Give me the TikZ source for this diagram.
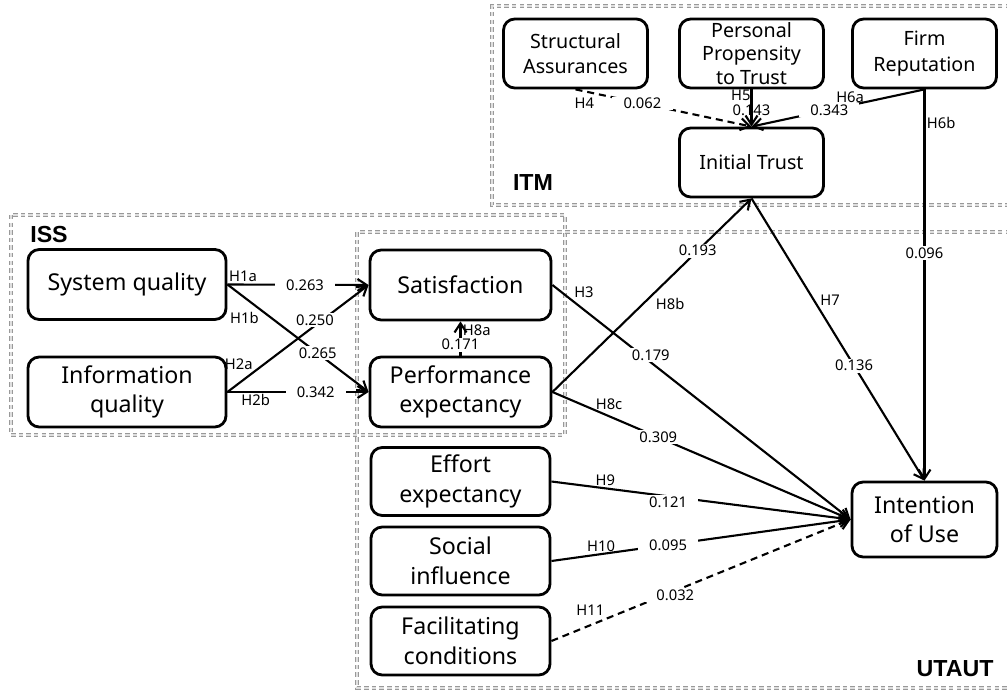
\documentclass[tikz,border=0pt]{standalone}
\usepackage{fontspec}
\setmainfont{Noto Sans}
\newfontfamily\modelfont{Liberation Sans}
\usetikzlibrary{arrows.meta}

\begin{document}
\begin{tikzpicture}[x=0.025cm, y=-0.025cm,
    var/.style={draw, line width=2pt, rounded corners=8pt, align=center, inner sep=1pt},
    smallvar/.style={var, font=\fontsize{14}{18}\selectfont, minimum width=3.6cm, minimum height=1.725cm},
    largevar/.style={var, font=\fontsize{16.5}{21}\selectfont, minimum height=1.75cm},
    link/.style={line width=1.5pt, -{Straight Barb[length=6.5pt, width=8.5pt, line width=1.5pt]}},
    weak/.style={link, dash pattern=on 5pt off 3.5pt},
    coef/.style={font=\fontsize{10.5}{12}\selectfont, fill=white, inner xsep=8pt, inner ysep=1pt},
    hyp/.style={font=\fontsize{10.5}{12}\selectfont, inner sep=1pt},
    groupframe/.style={draw=gray!80, line width=1pt, double=gray!25, double distance=0.8pt, dash pattern=on 3.2pt off 2.2pt},
    modelname/.style={font=\modelfont\bfseries\fontsize{16.5}{19}\selectfont}]
  \useasboundingbox (0,0) rectangle (1007,694);

  % model frames
  \draw[groupframe] (1010,6) -- (492,6) -- (492,205) -- (1010,205);
  \draw[groupframe] (11,215) rectangle (565,435);
  \draw[groupframe] (1010,232) -- (357,232) -- (357,688) -- (1010,688);
  \node[modelname] (itm) at (533,183) {ITM};
  \node[modelname] (iss) at (49,235) {ISS};
  \node[modelname] (utaut) at (955,669) {UTAUT};

  % ITM constructs
  \node[smallvar] (sa) at (575.5,53.5) {Structural\\Assurances};
  \node[smallvar, inner ysep=0pt, font=\fontsize{14}{16.5}\selectfont] (ppt) at (751.5,53.5) {Personal\\Propensity\\to Trust};
  \node[smallvar] (fr) at (924.5,53.5) {Firm\\Reputation};
  \node[smallvar] (it) at (751.5,162.5) {Initial Trust};

  % ISS and UTAUT constructs
  \node[largevar, minimum width=4.95cm] (sq) at (127,284.5) {System quality};
  \node[largevar, minimum width=4.95cm] (iq) at (127,392) {Information\\quality};
  \node[largevar, minimum width=4.525cm] (sat) at (460.5,285) {Satisfaction};
  \node[largevar, minimum width=4.525cm] (pe) at (460.5,392) {Performance\\expectancy};
  \node[largevar, minimum width=4.475cm, minimum height=1.7cm] (ee) at (460.5,481.5) {Effort\\expectancy};
  \node[largevar, minimum width=4.475cm, minimum height=1.7cm] (si) at (460.5,561) {Social\\influence};
  \node[largevar, minimum width=4.475cm, minimum height=1.7cm] (fc) at (460.5,641) {Facilitating\\conditions};
  \node[largevar, minimum width=3.625cm, minimum height=1.875cm] (iu) at (924.5,519.5) {Intention\\of Use};

  % paths
  \draw[link] (sq.east) -- (sat.west) node[coef, pos=0.55] {0.263} node[hyp, pos=0.11, above] {H1a};
  \draw[link] (sq.east) -- (pe.west) node[coef, pos=0.64] {0.265} node[hyp, pos=0.12, below, yshift=-9pt] {H1b};
  \draw[link] (iq.east) -- (sat.west) node[coef, pos=0.62, yshift=4pt] {0.250} node[hyp, pos=0.08, above, yshift=8pt] {H2a};
  \draw[link] (iq.east) -- (pe.west) node[coef, pos=0.625] {0.342} node[hyp, pos=0.2, below] {H2b};
  \draw[link] (pe.north) -- (sat.south) node[coef, pos=0.32] {0.171} node[hyp, pos=0.73, right] {H8a};
  \draw[link] (sat.east) -- (iu.west) node[coef, pos=0.33, yshift=5pt] {0.179} node[hyp, pos=0.065, anchor=south west] {H3};
  \draw[link] (pe.east) -- (it.south) node[coef, pos=0.73] {0.193} node[hyp, pos=0.57, xshift=3pt, yshift=-16pt] {H8b};
  \draw[link] (pe.east) -- (iu.west) node[coef, pos=0.355] {0.309} node[hyp, pos=0.19, above, yshift=3pt] {H8c};
  \draw[link] (it.south) -- (iu.north) node[coef, pos=0.593] {0.136} node[hyp, pos=0.36, right, xshift=3pt] {H7};
  \draw[link] (fr.south) -- (iu.north) node[coef, pos=0.419] {0.096} node[hyp, pos=0.086, right] {H6b};
  \draw[link] (fr.south) -- (it.north) node[coef, pos=0.55] {0.343} node[hyp, pos=0.43, above] {H6a};
  \draw[link] (ppt.south) -- (it.north) node[hyp, pos=0.55] {0.143} node[hyp, pos=0.2, left, xshift=1pt, yshift=1pt] {H5};
  \draw[weak] (sa.south) -- (it.north) node[coef, pos=0.38] {0.062} node[hyp, pos=0.05, below, yshift=-3pt] {H4};
  \draw[link] (ee.east) -- (iu.west) node[coef, pos=0.39, yshift=-4pt] {0.121} node[hyp, pos=0.18, above] {H9};
  \draw[link] (si.east) -- (iu.west) node[coef, pos=0.39] {0.095} node[hyp, pos=0.166, above] {H10};
  \draw[weak] (fc.east) -- (iu.west) node[coef, pos=0.414, yshift=-3pt] {0.032} node[hyp, pos=0.13, above, yshift=5pt] {H11};
\end{tikzpicture}
\end{document}
